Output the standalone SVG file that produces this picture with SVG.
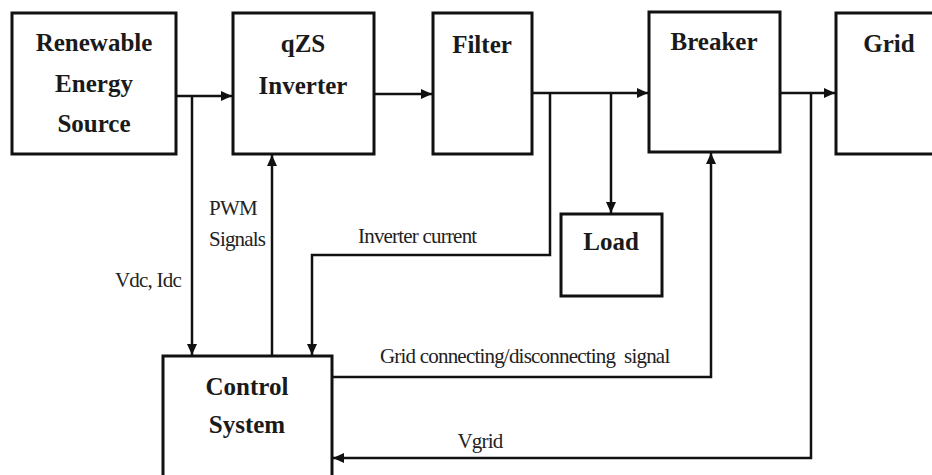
<svg xmlns="http://www.w3.org/2000/svg" width="932" height="475" viewBox="0 0 932 475">
<style>
.box{fill:#fff;stroke:#111;stroke-width:3}
.node{font-family:"Liberation Serif","Times New Roman",serif;font-weight:bold;font-size:25px;fill:#1a1a1a;text-anchor:middle}
.lbl{font-family:"Liberation Serif","Times New Roman",serif;font-size:21px;letter-spacing:-0.8px;fill:#222;white-space:pre}
.conn{fill:none;stroke:#111;stroke-width:2.5}
</style>
<defs>
<marker id="ah" markerUnits="userSpaceOnUse" markerWidth="12" markerHeight="10" refX="11" refY="5" orient="auto">
<path d="M0,0 L11,5 L0,10 Z" fill="#111"/>
</marker>
</defs>
<rect width="932" height="475" fill="#fff"/>
<g id="connectors">
<path class="conn" d="M176,96 H232" marker-end="url(#ah)"/>
<path class="conn" d="M192,96 V355" marker-end="url(#ah)"/>
<path class="conn" d="M272,356 V155" marker-end="url(#ah)"/>
<path class="conn" d="M374,94 H432" marker-end="url(#ah)"/>
<path class="conn" d="M532,93 H648" marker-end="url(#ah)"/>
<path class="conn" d="M611,93 V213" marker-end="url(#ah)"/>
<path class="conn" d="M550,93 V255 H312 V355" marker-end="url(#ah)"/>
<path class="conn" d="M780,93 H835" marker-end="url(#ah)"/>
<path class="conn" d="M811,93 V458 H333" marker-end="url(#ah)"/>
<path class="conn" d="M332,377 H711 V153" marker-end="url(#ah)"/>
</g>
<g id="renewable">
<rect class="box" x="12" y="13" width="164" height="141"/>
<text class="node" x="94" y="51">Renewable</text>
<text class="node" x="94" y="92">Energy</text>
<text class="node" x="94" y="132">Source</text>
</g>
<g id="qzs">
<rect class="box" x="233" y="13" width="141" height="141"/>
<text class="node" x="303" y="52">qZS</text>
<text class="node" x="303" y="94">Inverter</text>
</g>
<g id="filter">
<rect class="box" x="433" y="13" width="99" height="141"/>
<text class="node" x="482" y="53">Filter</text>
</g>
<g id="breaker">
<rect class="box" x="649" y="12" width="131" height="140"/>
<text class="node" x="714" y="50">Breaker</text>
</g>
<g id="grid">
<rect class="box" x="836" y="13" width="110" height="141"/>
<text class="node" x="889" y="52">Grid</text>
</g>
<g id="load">
<rect class="box" x="561" y="214" width="101" height="82"/>
<text class="node" x="611" y="250">Load</text>
</g>
<g id="control">
<rect class="box" x="163" y="356" width="169" height="130"/>
<text class="node" x="247" y="395">Control</text>
<text class="node" x="247" y="433">System</text>
</g>
<g id="labels">
<text class="lbl" x="209" y="215">PWM</text>
<text class="lbl" x="209" y="246">Signals</text>
<text class="lbl" x="358" y="243">Inverter current</text>
<text class="lbl" x="115" y="287">Vdc, Idc</text>
<text class="lbl" x="380" y="363">Grid connecting/disconnecting  signal</text>
<text class="lbl" x="480" y="448" text-anchor="middle">Vgrid</text>
</g>
</svg>
